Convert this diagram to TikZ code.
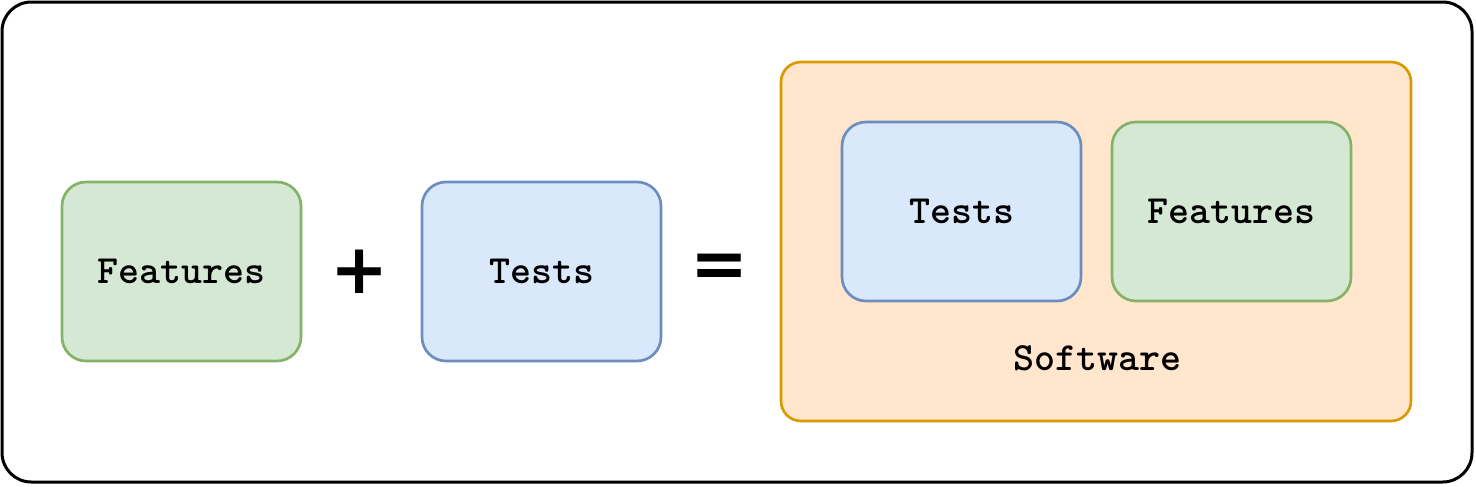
\documentclass[tikz,border=0pt]{standalone}
\usepackage{fontspec}
\newfontfamily\symfont{DejaVu Sans}
\definecolor{gfill}{HTML}{D5E8D4}
\definecolor{gline}{HTML}{82B366}
\definecolor{bfill}{HTML}{DAE8FC}
\definecolor{bline}{HTML}{6C8EBF}
\definecolor{ofill}{HTML}{FFE6CC}
\definecolor{oline}{HTML}{D79B00}
\tikzset{
  txt/.style={font=\ttfamily\bfseries\fontsize{30}{34}\selectfont, text=black},
  box/.style={rectangle, rounded corners=18pt, line width=2pt,
    minimum width=179.25pt, minimum height=134.25pt, inner sep=0pt, txt},
  feat/.style={box, draw=gline, fill=gfill},
  test/.style={box, draw=bline, fill=bfill},
  soft/.style={rectangle, rounded corners=15pt, line width=2pt, draw=oline, fill=ofill,
    minimum width=472.5pt, minimum height=269.25pt, inner sep=0pt},
  lbl/.style={txt, inner sep=0pt},
  op/.style={font=\symfont\bfseries\fontsize{52}{60}\selectfont, text=black, inner sep=0pt},
  outer/.style={rectangle, rounded corners=22pt, line width=2.25pt, draw=black, fill=white,
    minimum width=1102.5pt, minimum height=360pt, inner sep=0pt}
}
\begin{document}
\begin{tikzpicture}[x=0.75pt, y=-0.75pt]
\useasboundingbox (0,0) rectangle (1476,486);
\node[outer] (frame) at (737,242) {};
\node[feat] (f1) at (181.5,271.5) {Features};
\node[op] (plus) at (360,272) {+};
\node[test] (t1) at (541.5,271.5) {Tests};
\node[op] (eq) at (720,271) {=};
\node[soft] (sw) at (1096,241.5) {};
\node[test] (t2) at (961.5,211.5) {Tests};
\node[feat] (f2) at (1231.5,211.5) {Features};
\node[lbl] (swl) at (1097,358) {Software};
\end{tikzpicture}
\end{document}
